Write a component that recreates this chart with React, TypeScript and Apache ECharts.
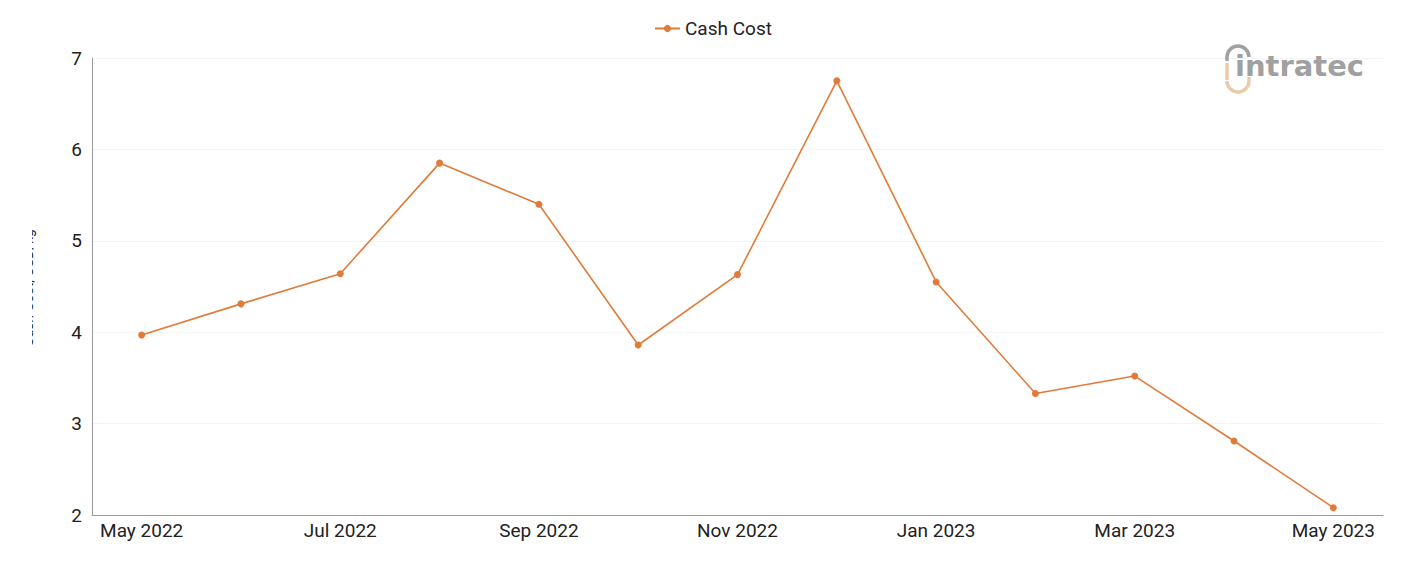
import React, { useEffect, useRef } from "react";
import * as echarts from "echarts";

const months = [
  "May 2022", "Jun 2022", "Jul 2022", "Aug 2022", "Sep 2022", "Oct 2022",
  "Nov 2022", "Dec 2022", "Jan 2023", "Feb 2023", "Mar 2023", "Apr 2023", "May 2023",
];
const cashCost = [3.97, 4.31, 4.64, 5.85, 5.4, 3.86, 4.63, 6.75, 4.55, 3.33, 3.52, 2.81, 2.08];
const seriesName = "Cash Cost";
const yAxisName = "Cash Cost, USD/kg";

const ORANGE = "#e07b39";
const FONT = "Roboto, sans-serif";

export default function App() {
  const ref = useRef<HTMLDivElement>(null);
  useEffect(() => {
    if (!ref.current) return;
    const chart = echarts.init(ref.current, null, { renderer: "svg" });
    chart.setOption({
      animation: false,
      textStyle: { fontFamily: FONT },
      legend: {
        top: 6,
        left: 641,
        itemWidth: 25,
        itemHeight: 9,
        itemGap: 5,
        textStyle: { fontSize: 19, color: "#222", fontFamily: FONT },
        data: [seriesName],
      },
      grid: { left: 84, right: 10, top: 50, bottom: 38, containLabel: false },
      xAxis: {
        type: "category",
        data: months,
        boundaryGap: true,
        axisLine: { lineStyle: { color: "#999", width: 1 } },
        axisTick: { show: false },
        axisLabel: { interval: 1, fontSize: 19, color: "#222", margin: 6, fontFamily: FONT },
        splitLine: { show: false },
      },
      yAxis: {
        type: "value",
        min: 2,
        max: 7,
        interval: 1,
        axisLine: { show: true, lineStyle: { color: "#999", width: 1 } },
        axisTick: { show: false },
        axisLabel: { fontSize: 19, color: "#222", margin: 10, fontFamily: FONT },
        splitLine: { show: true, lineStyle: { color: "#f4f4f4", width: 1 } },
      },
      series: [
        {
          name: seriesName,
          type: "line",
          data: cashCost,
          symbol: "circle",
          symbolSize: 7,
          lineStyle: { color: ORANGE, width: 1.6 },
          itemStyle: { color: ORANGE },
        },
      ],
      graphic: [
        {
          type: "text",
          x: 20,
          y: 280,
          rotation: Math.PI / 2,
          z: 1,
          style: {
            text: yAxisName,
            fontSize: 14,
            fontFamily: FONT,
            fill: "#222",
            align: "center",
            verticalAlign: "middle",
          },
        },
        {
          type: "rect",
          z: 2,
          shape: { x: 0, y: 200, width: 24, height: 170 },
          style: { fill: "#fff" },
        },
        // logo
        {
          type: "arc",
          z: 5,
          shape: { cx: 1230, cy: 49, r: 11, startAngle: Math.PI, endAngle: Math.PI * 2 },
          style: { stroke: "#a0a0a0", lineWidth: 3.5, fill: "none" },
        },
        {
          type: "line",
          z: 5,
          shape: { x1: 1219, y1: 49, x2: 1219, y2: 53 },
          style: { stroke: "#a0a0a0", lineWidth: 3.5 },
        },
        {
          type: "line",
          z: 5,
          shape: { x1: 1219, y1: 55, x2: 1219, y2: 72 },
          style: { stroke: "#e9cbab", lineWidth: 3.5 },
        },
        {
          type: "arc",
          z: 5,
          shape: { cx: 1230, cy: 73, r: 11, startAngle: 0, endAngle: Math.PI },
          style: { stroke: "#e9cbab", lineWidth: 3.5, fill: "none" },
        },
        {
          type: "line",
          z: 5,
          shape: { x1: 1241, y1: 73, x2: 1241, y2: 69 },
          style: { stroke: "#e9cbab", lineWidth: 3.5 },
        },
        {
          type: "text",
          z: 5,
          x: 1227,
          y: 72,
          style: {
            text: "intratec",
            fontSize: 29,
            fontWeight: "bold",
            fontFamily: "DejaVu Sans, sans-serif",
            fill: "#a0a0a0",
            align: "left",
            verticalAlign: "bottom",
          },
        },
      ],
    });
    return () => chart.dispose();
  }, []);
  return <div ref={ref} style={{ width: 1385, height: 545 }} />;
}
